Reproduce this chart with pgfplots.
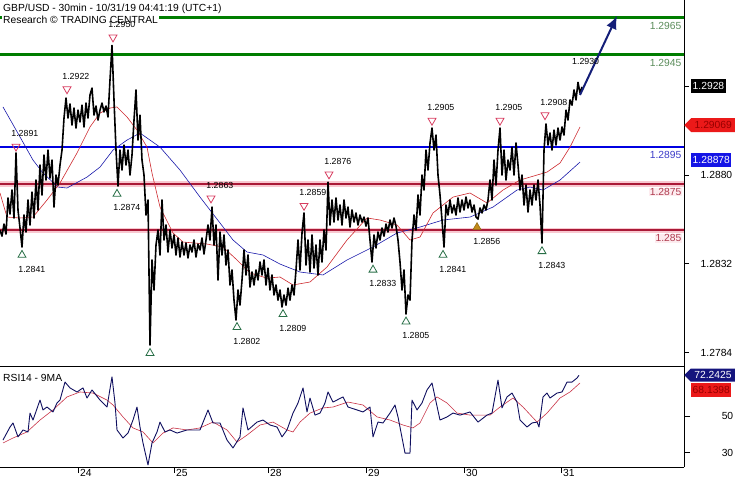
\documentclass[border=0pt]{standalone}
\usepackage{fontspec}
\setmainfont{Liberation Sans}
\usepackage{pgfplots}
\pgfplotsset{compat=1.18}
\usepackage{pgfplotstable}
\usetikzlibrary{arrows.meta,shapes.symbols}

\newcommand\lab{\fontsize{10.3}{12}\selectfont}
\newcommand\tlab{\fontsize{8.8}{10}\selectfont}

\definecolor{lvgreen}{RGB}{0,125,0}
\definecolor{lvgreentxt}{RGB}{90,140,90}
\definecolor{lvblue}{RGB}{0,0,225}
\definecolor{lvbluetxt}{RGB}{60,60,200}
\definecolor{lvred}{RGB}{170,25,55}
\definecolor{lvredtxt}{RGB}{175,60,80}
\definecolor{lvpink}{RGB}{248,200,208}
\definecolor{mared}{RGB}{205,40,45}
\definecolor{mablue}{RGB}{25,25,170}
\definecolor{trired}{RGB}{215,60,95}
\definecolor{trigreen}{RGB}{40,110,70}
\definecolor{triorange}{RGB}{195,140,25}
\definecolor{rsinavy}{RGB}{15,15,95}
\definecolor{rsired}{RGB}{200,50,70}
\definecolor{arrownavy}{RGB}{20,30,120}
\definecolor{boxred}{RGB}{235,25,25}
\definecolor{boxredtxt}{RGB}{150,0,0}
\definecolor{boxblue}{RGB}{20,20,230}
\definecolor{boxnavy}{RGB}{20,20,125}

\pgfplotstableread{
b p
0 1.28502
1 1.28469
2 1.28534
3 1.28480
4 1.28675
5 1.28588
6 1.28718
7 1.28567
8 1.28918
9 1.28610
10 1.28513
11 1.28410
12 1.28583
13 1.28491
14 1.28664
15 1.28529
16 1.28707
17 1.28567
18 1.28772
19 1.28610
20 1.28853
21 1.28691
22 1.28907
23 1.28772
24 1.28934
25 1.28783
26 1.28880
27 1.28626
28 1.28799
29 1.28745
30 1.28853
31 1.28934
32 1.29107
33 1.29215
34 1.29107
35 1.29183
36 1.29069
37 1.29161
38 1.29053
39 1.29150
40 1.29086
41 1.29177
42 1.29059
43 1.29188
44 1.29107
45 1.29232
46 1.29269
47 1.29123
48 1.29172
49 1.29096
50 1.29150
51 1.29188
52 1.29140
53 1.29172
54 1.29113
55 1.29313
56 1.29500
57 1.29205
58 1.28934
59 1.28740
60 1.28934
61 1.28826
62 1.28961
63 1.28853
64 1.28934
65 1.28799
66 1.28907
67 1.29096
68 1.29259
69 1.28988
70 1.29123
71 1.28880
72 1.28799
73 1.28583
74 1.28664
75 1.27880
76 1.28340
77 1.28178
78 1.28421
79 1.28502
80 1.28367
81 1.28664
82 1.28448
83 1.28529
84 1.28383
85 1.28502
86 1.28405
87 1.28475
88 1.28367
89 1.28459
90 1.28356
91 1.28437
92 1.28367
93 1.28432
94 1.28351
95 1.28421
96 1.28383
97 1.28448
98 1.28356
99 1.28426
100 1.28394
101 1.28459
102 1.28372
103 1.28448
104 1.28529
105 1.28448
106 1.28626
107 1.28421
108 1.28529
109 1.28232
110 1.28491
111 1.28367
112 1.28475
113 1.28313
114 1.28394
115 1.28205
116 1.28286
117 1.28123
118 1.28015
119 1.28178
120 1.28096
121 1.28232
122 1.28394
123 1.28259
124 1.28367
125 1.28194
126 1.28275
127 1.28205
128 1.28286
129 1.28232
130 1.28329
131 1.28259
132 1.28340
133 1.28205
134 1.28296
135 1.28178
136 1.28259
137 1.28151
138 1.28205
139 1.28123
140 1.28178
141 1.28086
142 1.28151
143 1.28096
144 1.28188
145 1.28123
146 1.28205
147 1.28151
148 1.28286
149 1.28448
150 1.28286
151 1.28486
152 1.28594
153 1.28313
154 1.28448
155 1.28275
156 1.28475
157 1.28296
158 1.28421
159 1.28259
160 1.28448
161 1.28329
162 1.28502
163 1.28394
164 1.28761
165 1.28529
166 1.28664
167 1.28545
168 1.28675
169 1.28556
170 1.28637
171 1.28529
172 1.28664
173 1.28567
174 1.28626
175 1.28518
176 1.28610
177 1.28545
178 1.28594
179 1.28529
180 1.28583
181 1.28545
182 1.28572
183 1.28523
184 1.28567
185 1.28448
186 1.28329
187 1.28475
188 1.28405
189 1.28491
190 1.28448
191 1.28513
192 1.28469
193 1.28534
194 1.28491
195 1.28556
196 1.28513
197 1.28567
198 1.28523
199 1.28448
200 1.28329
201 1.28178
202 1.28286
203 1.28048
204 1.28151
205 1.28123
206 1.28448
207 1.28583
208 1.28502
209 1.28691
210 1.28583
211 1.28799
212 1.28718
213 1.28934
214 1.28826
215 1.28972
216 1.29053
217 1.28934
218 1.29015
219 1.28799
220 1.28691
221 1.28556
222 1.28410
223 1.28637
224 1.28583
225 1.28664
226 1.28594
227 1.28637
228 1.28583
229 1.28675
230 1.28599
231 1.28664
232 1.28610
233 1.28680
234 1.28621
235 1.28664
236 1.28599
237 1.28637
238 1.28572
239 1.28561
240 1.28621
241 1.28594
242 1.28637
243 1.28610
244 1.28664
245 1.28772
246 1.28664
247 1.28880
248 1.28745
249 1.28934
250 1.29053
251 1.28799
252 1.28934
253 1.28772
254 1.28880
255 1.28826
256 1.28950
257 1.28799
258 1.28972
259 1.28853
260 1.28718
261 1.28799
262 1.28637
263 1.28745
264 1.28599
265 1.28718
266 1.28637
267 1.28745
268 1.28664
269 1.28772
270 1.28637
271 1.28432
272 1.28934
273 1.29075
274 1.28961
275 1.29026
276 1.28934
277 1.29042
278 1.28961
279 1.29053
280 1.28988
281 1.29059
282 1.29015
283 1.29150
284 1.29096
285 1.29205
286 1.29177
287 1.29259
288 1.29205
289 1.29300
290 1.29242
291 1.29275
}\price

\pgfplotstableread{
b p
1.5 1.29167
10 1.29005
16.5 1.28880
21.5 1.28810
29 1.28734
33.5 1.28729
43.5 1.28788
50 1.28842
56.5 1.28934
63.5 1.28988
70 1.29026
75 1.28988
80 1.28950
90 1.28826
100 1.28680
110 1.28540
116.5 1.28448
123.5 1.28383
131.5 1.28367
140 1.28318
150 1.28275
161.5 1.28259
173.5 1.28340
186.5 1.28410
198.5 1.28486
210 1.28518
221.5 1.28556
235 1.28572
246.5 1.28626
258.5 1.28718
265 1.28734
271.5 1.28718
280 1.28772
290 1.28869
}\mablue

\pgfplotstableread{
b p
0 1.28702
3.5 1.28572
10 1.28567
16.5 1.28572
23.5 1.28664
30 1.28756
38.5 1.28918
45 1.29059
50 1.29134
55 1.29161
58.5 1.29167
63.5 1.29113
68.5 1.29042
73.5 1.28950
76 1.28810
80 1.28626
86.5 1.28486
91.5 1.28437
103.5 1.28426
111.5 1.28410
118.5 1.28340
125 1.28270
133.5 1.28242
140 1.28248
146.5 1.28205
155 1.28221
163.5 1.28302
173.5 1.28448
183.5 1.28567
190 1.28556
198.5 1.28529
205 1.28448
210 1.28464
216.5 1.28594
226.5 1.28680
235 1.28702
243.5 1.28648
251.5 1.28718
260 1.28772
268.5 1.28799
273.5 1.28815
280 1.28864
285 1.28950
290 1.29059
}\mared

\pgfplotstableread{
b p lab
8 1.2891 1.2891
33.5 1.2922 1.2922
56.5 1.2950 1.2950
105.5 1.2863 1.2863
152 1.2859 1.2859
164.5 1.2876 1.2876
216 1.2905 1.2905
250 1.2905 1.2905
272.5 1.2908 1.2908
}\highs

\pgfplotstableread{
b p lab
11 1.2841 1.2841
58.5 1.2874 1.2874
118.5 1.2802 1.2802
141.5 1.2809 1.2809
186.5 1.2833 1.2833
203 1.2805 1.2805
221.5 1.2841 1.2841
271 1.2843 1.2843
}\lows

\pgfplotstableread{
b r
1.5 36.9
5 44.0
6.5 46.2
9 38.6
11.5 42.4
14 41.3
15 51.6
16.5 47.8
20 58.7
21.5 53.3
23.5 54.9
26.5 52.2
28.5 57.1
30 58.7
32.5 68.5
35 65.3
38.5 63.1
41.5 65.3
43.5 59.8
46 64.2
50 58.7
53.5 54.9
56 71.3
57.5 57.1
58.5 42.4
61.5 38.0
64 40.7
66.5 47.8
68.5 54.9
70 44.0
71.5 35.3
74 23.3
76 35.3
78.5 41.3
80 46.7
82.5 41.3
85 42.4
88.5 40.7
93.5 42.4
100 42.4
104 53.3
106.5 46.2
110 46.2
113.5 36.9
116.5 32.6
120 38.6
121.5 54.4
124 42.4
128.5 46.7
131.5 47.8
135 45.1
138.5 44.0
141 38.6
143.5 42.4
146.5 51.6
149 57.1
151.5 65.3
153.5 52.2
155 59.8
157.5 50.5
160 51.6
162.5 57.1
164 63.1
166.5 57.6
171.5 60.4
174 54.9
178.5 53.3
181.5 52.2
185 54.9
186.5 38.6
189 46.7
191.5 46.2
195 51.6
197.5 56.0
199 49.5
202.5 29.8
205 29.8
206 58.7
208.5 53.3
211 57.1
213.5 64.2
216 68.0
217.5 60.4
220 47.8
223.5 49.5
226.5 51.6
230 50.5
235 52.2
239 46.7
243.5 50.5
246 51.6
249 69.6
251 54.4
253.5 60.4
256 62.5
258.5 57.6
260 47.8
263.5 44.0
266 46.2
268.5 46.7
269.5 44.0
271.5 60.4
273.5 62.5
275 59.8
278.5 62.5
281 63.1
283.5 68.5
286 68.5
288.5 70.7
289.5 72.2
}\rsi

\pgfplotstableread{
b r
1.5 35.3
6.5 38.0
13.5 41.3
20 47.8
26.5 53.3
33.5 60.4
40 63.1
46.5 62.5
53.5 58.7
56.5 56.0
61.5 49.5
66.5 43.5
71.5 41.3
76.5 35.3
81.5 40.7
86.5 43.5
93.5 42.4
100 43.5
106.5 46.7
113.5 42.4
118.5 35.8
123.5 39.6
130 45.1
136.5 46.7
143.5 42.4
146.5 41.3
150 46.7
155 51.6
161.5 54.4
166.5 54.9
174 57.6
181.5 56.0
188.5 49.5
195 47.8
201.5 45.1
206.5 43.5
210 46.2
215 57.1
218.5 60.4
223.5 57.1
228.5 51.6
235 50.5
245 50.5
250 54.9
256.5 59.8
261.5 54.9
268.5 46.7
273.5 51.6
280 59.8
285 63.1
290 68.0
}\rsima

\begin{document}
\begin{tikzpicture}
\useasboundingbox (0pt,-480pt) rectangle (735pt,0pt);
% ---------------- main price panel ----------------
\begin{axis}[
  at={(0pt,0pt)}, anchor=north west,
  scale only axis, width=684pt, height=366pt,
  xmin=0, xmax=342, ymin=1.27767, ymax=1.29745,
  clip=false,
  axis x line=bottom, axis y line=right,
  axis line style={-, line width=0.9pt},
  xtick=\empty,
  ytick={1.2784,1.2832,1.2880},
  extra y ticks={1.2928}, extra y tick labels={},
  scaled y ticks=false,
  tick align=outside, major tick length=5pt,
  tick style={black, line width=0.7pt},
  /pgf/number format/assume math mode=true,
  yticklabel style={font=\lab, /pgf/number format/fixed, /pgf/number format/fixed zerofill, /pgf/number format/precision=4, anchor=west, inner sep=0pt, text width=33pt, align=right, xshift=10pt},
]
% support / resistance levels
\addplot[lvgreen, line width=2.2pt] coordinates {(0,1.2965) (342,1.2965)};
\addplot[lvgreen, line width=2.2pt] coordinates {(0,1.2945) (342,1.2945)};
\addplot[lvblue, line width=2.2pt] coordinates {(0,1.2895) (342,1.2895)};
\addplot[lvpink, line width=5.5pt] coordinates {(0,1.2875) (342,1.2875)};
\addplot[lvred, line width=2.2pt] coordinates {(0,1.2875) (342,1.2875)};
\addplot[lvpink, line width=5.5pt] coordinates {(0,1.2850) (342,1.2850)};
\addplot[lvred, line width=2.2pt] coordinates {(0,1.2850) (342,1.2850)};

\node[anchor=base west, xshift=3pt, yshift=-11pt, inner sep=0pt, font=\lab] at (rel axis cs:0,1) {GBP/USD - 30min - 10/31/19 04:41:19 (UTC+1)};
\node[anchor=base west, xshift=2pt, yshift=-23pt, inner sep=1pt, fill=white, font=\lab] at (rel axis cs:0,1) {Research © TRADING CENTRAL};

% moving averages
\addplot[mablue, line width=0.6pt] table[x=b, y=p] {\mablue};
\addplot[mared, line width=0.6pt] table[x=b, y=p] {\mared};
% price
\addplot[black, line width=1.6pt, line join=round] table[x=b, y=p] {\price};
% projection arrow
\addplot[arrownavy, line width=2pt, -{Latex[length=13pt,width=11pt]}] coordinates {(290,1.29232) (308.5,1.29659)};

% swing markers
\addplot[only marks, mark=triangle, mark size=4.6pt,
  mark options={draw=trired, fill=trired!8, line width=0.8pt, yshift=8pt, rotate=180},
  nodes near coords, point meta=explicit symbolic,
  every node near coord/.append style={anchor=west, xshift=-5pt, yshift=13pt, font=\tlab, text=black, inner sep=0pt}]
  table[x=b, y=p, meta=lab] {\highs};
\addplot[draw=none, mark=none, nodes near coords, point meta=explicit symbolic,
  every node near coord/.append style={anchor=west, xshift=-5pt, yshift=21pt, font=\tlab, text=black, inner sep=0pt}]
  coordinates {(288.5,1.2930) [1.2930]};
\addplot[only marks, mark=triangle, mark size=4.6pt,
  mark options={draw=trigreen, fill=trigreen!6, line width=0.8pt, yshift=-8pt},
  nodes near coords, point meta=explicit symbolic,
  every node near coord/.append style={anchor=west, xshift=-4pt, yshift=-14pt, font=\tlab, text=black, inner sep=0pt}]
  table[x=b, y=p, meta=lab] {\lows};
\addplot[only marks, mark=triangle, mark size=4.6pt,
  mark options={draw=trigreen, fill=trigreen!6, line width=0.8pt, yshift=-8pt}]
  coordinates {(75,1.2788)};
\addplot[only marks, mark=triangle*, mark size=4.6pt,
  mark options={draw=triorange!75!black, fill=triorange, line width=0.6pt, yshift=-8pt},
  nodes near coords, point meta=explicit symbolic,
  every node near coord/.append style={anchor=west, xshift=-4pt, yshift=-14pt, font=\tlab, text=black, inner sep=0pt}]
  coordinates {(238.5,1.2856) [1.2856]};

% level labels
\node[anchor=east, xshift=-2pt, yshift=-8pt, inner sep=0.5pt, font=\lab, text=lvgreentxt] at (axis cs:342,1.2965) {1.2965};
\node[anchor=east, xshift=-2pt, yshift=-8pt, inner sep=0.5pt, font=\lab, text=lvgreentxt] at (axis cs:342,1.2945) {1.2945};
\node[anchor=east, xshift=-2pt, yshift=-8pt, inner sep=0.5pt, font=\lab, text=lvbluetxt] at (axis cs:342,1.2895) {1.2895};
\node[anchor=east, xshift=-2pt, yshift=-8pt, inner sep=0.5pt, font=\lab, text=lvredtxt, fill=lvpink!35] at (axis cs:342,1.2875) {1.2875};
\node[anchor=east, xshift=-2pt, yshift=-8pt, inner sep=0.5pt, font=\lab, text=lvredtxt, fill=lvpink!35] at (axis cs:342,1.2850) {1.285};

% right-hand value tags
\node[anchor=west, xshift=7pt, fill=black, text=white, font=\lab, inner sep=1.5pt, minimum height=14pt] at (axis cs:342,1.2928) {1.2928};
\node[signal, signal to=west, anchor=west, fill=boxred, text=boxredtxt, font=\lab, inner sep=1.5pt, minimum height=14pt, minimum width=51pt] at (axis cs:342,1.29069) {1.29069};
\node[anchor=west, xshift=7pt, fill=boxblue, text=white, font=\lab, inner sep=1.5pt, minimum height=14pt] at (axis cs:342,1.28878) {1.28878};
\end{axis}

% ---------------- RSI panel ----------------
\begin{axis}[
  at={(0pt,-366pt)}, anchor=north west,
  scale only axis, width=684pt, height=101pt,
  xmin=0, xmax=342, ymin=22.2, ymax=77.25,
  clip=false,
  axis x line=bottom, axis y line=right,
  axis line style={-, line width=0.9pt},
  xtick={39,87,134,183,232,280.5},
  xticklabels={24,25,28,29,30,31},
  ytick={30,50},
  tick align=outside, major tick length=6pt,
  tick style={black, line width=0.7pt},
  /pgf/number format/assume math mode=true,
  yticklabel style={font=\lab, anchor=west, inner sep=0pt, text width=33pt, align=right, xshift=10pt},
  xticklabel style={font=\lab, anchor=north west, inner sep=0pt, xshift=2pt, yshift=4pt},
]
\node[anchor=base west, xshift=3pt, yshift=-15pt, inner sep=0pt, font=\lab] at (rel axis cs:0,1) {RSI14 - 9MA};
\addplot[rsired, line width=0.6pt] table[x=b, y=r] {\rsima};
\addplot[rsinavy, line width=0.9pt, line join=round] table[x=b, y=r] {\rsi};
\node[signal, signal to=west, anchor=west, fill=boxnavy, text=white, font=\lab, inner sep=1.5pt, minimum height=13pt, minimum width=51pt] at (axis cs:342,72.2425) {72.2425};
\node[anchor=west, xshift=7pt, fill=boxred, text=boxredtxt, font=\lab, inner sep=1.5pt, minimum height=14pt] at (axis cs:342,64.2) {68.1398};
\end{axis}
\end{tikzpicture}
\end{document}
